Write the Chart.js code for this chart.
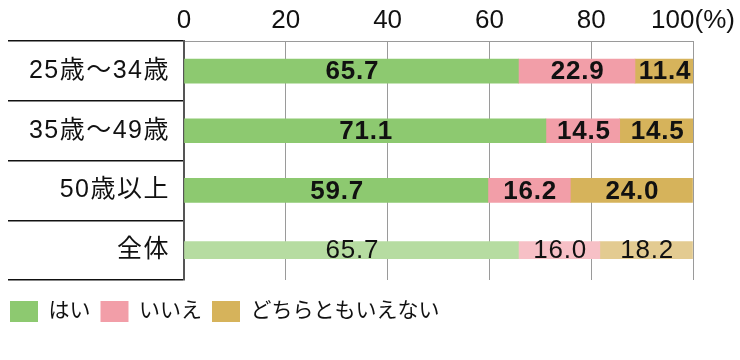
<!DOCTYPE html>
<html><head><meta charset="utf-8">
<script src="https://cdn.jsdelivr.net/npm/chart.js@4"></script>
<style>html,body{margin:0;padding:0;background:#fff;}#wrap{width:740px;height:360px;}</style>
</head><body><div id="wrap"><canvas id="c" width="740" height="360"></canvas></div>
<script>
const categories = ['25歳～34歳', '35歳～49歳', '50歳以上', '全体'];
const seriesNames = ['はい', 'いいえ', 'どちらともいえない'];
const hai   = [65.7, 71.1, 59.7, 65.7];
const iie   = [22.9, 14.5, 16.2, 16.0];
const dochi = [11.4, 14.5, 24.0, 18.2];
const xTicks = [0, 20, 40, 60, 80, 100];

const strong = ['#8dc970', '#f29ea8', '#d6b35b'];
const light  = ['#b6dca1', '#f7c0c6', '#e3cb91'];
const series = [hai, iie, dochi];
const totalIdx = categories.length - 1;

const datasets = [];
series.forEach((vals, k) => {
  datasets.push({
    label: seriesNames[k],
    data: vals.map((v, i) => i === totalIdx ? null : v),
    backgroundColor: strong[k], barThickness: 24, stack: 's', grp: 'main'
  });
});
series.forEach((vals, k) => {
  datasets.push({
    label: seriesNames[k] + '(全体)',
    data: vals.map((v, i) => i === totalIdx ? v : null),
    backgroundColor: light[k], barThickness: 17, stack: 's', grp: 'total'
  });
});

const LAT = '"Liberation Sans", "Noto Sans CJK JP", sans-serif';

const labelPlugin = {
  id: 'vals',
  beforeDraw(chart) {
    const y = chart.scales.y;
    if (y && !y._lsPatched) {
      const orig = y.drawLabels.bind(y);
      y.drawLabels = function (ca) {
        const c = this.ctx; c.save(); c.letterSpacing = '1.5px'; orig(ca); c.restore();
      };
      y._lsPatched = true;
    }
  },
  afterDatasetsDraw(chart) {
    const ctx = chart.ctx;
    chart.data.datasets.forEach((ds, di) => {
      const meta = chart.getDatasetMeta(di);
      meta.data.forEach((el, i) => {
        const v = ds.data[i];
        if (v === null || v === undefined) return;
        const p = el.getCenterPoint();
        ctx.save();
        ctx.font = (ds.grp === 'main' ? 'bold ' : '') + '26px ' + LAT;
        ctx.letterSpacing = '0.8px';
        ctx.fillStyle = '#111';
        ctx.textAlign = 'center';
        ctx.textBaseline = 'middle';
        ctx.fillText(v.toFixed(1), p.x + 1, p.y + 1);
        ctx.restore();
      });
    });
  }
};

new Chart(document.getElementById('c'), {
  type: 'bar',
  data: { labels: categories, datasets },
  options: {
    indexAxis: 'y',
    responsive: false,
    animation: false,
    layout: { padding: { left: 0, right: 47, top: 0, bottom: 28 } },
    plugins: {
      tooltip: { enabled: false },
      legend: {
        position: 'bottom', align: 'start',
        labels: {
          filter: (item) => item.datasetIndex < 3,
          boxWidth: 28, boxHeight: 21, padding: 10,
          color: '#111',
          font: { family: LAT, size: 21 }
        }
      }
    },
    scales: {
      x: {
        position: 'top', stacked: true, min: 0, max: 100,
        afterBuildTicks: (s) => { s.ticks = xTicks.map(v => ({ value: v })); },
        ticks: {
          color: '#111', font: { family: LAT, size: 26 }, padding: 5,
          callback: (v) => v === 100 ? '100(%)' : String(v)
        },
        grid: { color: '#9a9a9a', lineWidth: 1, drawTicks: false },
        border: { display: true, color: '#9a9a9a', width: 1 }
      },
      spacer: {
        type: 'linear', position: 'bottom', display: true,
        afterFit: (s) => { s.height = 11; },
        ticks: { display: false }, grid: { display: false }, border: { display: false }
      },
      y: {
        stacked: true,
        afterFit: (s) => { s.width = 184; },
        ticks: { color: '#111', font: { family: LAT, size: 25 }, padding: -162 },
        grid: {
          offset: true, drawOnChartArea: true, drawTicks: true, tickLength: 176,
          color: (c) => (c.index === categories.length ? '#9a9a9a' : 'rgba(0,0,0,0)'),
          tickColor: '#111', lineWidth: 1.5
        },
        border: { display: true, color: '#555', width: 2 }
      }
    }
  },
  plugins: [labelPlugin]
});
</script></body></html>
